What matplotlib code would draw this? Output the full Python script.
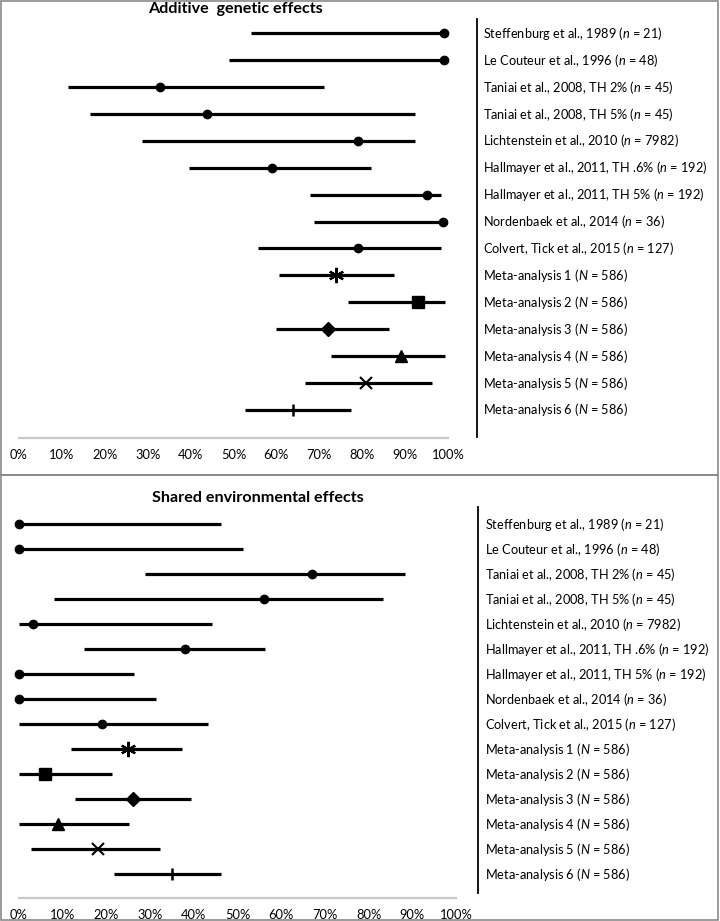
import matplotlib
matplotlib.use("Agg")
import matplotlib.pyplot as plt
from matplotlib.lines import Line2D
from matplotlib.patches import Rectangle
from matplotlib.transforms import blended_transform_factory

plt.rcParams['font.family'] = ['Lato', 'DejaVu Sans']
plt.rcParams['mathtext.fontset'] = 'custom'
plt.rcParams['mathtext.it'] = 'Lato:italic'
plt.rcParams['mathtext.rm'] = 'Lato'

studies = [
    "Steffenburg et al., 1989 ($n$ = 21)",
    "Le Couteur et al., 1996 ($n$ = 48)",
    "Taniai et al., 2008, TH 2% ($n$ = 45)",
    "Taniai et al., 2008, TH 5% ($n$ = 45)",
    "Lichtenstein et al., 2010 ($n$ = 7982)",
    "Hallmayer et al., 2011, TH .6% ($n$ = 192)",
    "Hallmayer et al., 2011, TH 5% ($n$ = 192)",
    "Nordenbaek et al., 2014 ($n$ = 36)",
    "Colvert, Tick et al., 2015 ($n$ = 127)",
    "Meta-analysis 1 ($N$ = 586)",
    "Meta-analysis 2 ($N$ = 586)",
    "Meta-analysis 3 ($N$ = 586)",
    "Meta-analysis 4 ($N$ = 586)",
    "Meta-analysis 5 ($N$ = 586)",
    "Meta-analysis 6 ($N$ = 586)",
]

# Additive genetic effects
a_lower = [0.54, 0.49, 0.115, 0.165, 0.287, 0.396, 0.678, 0.688, 0.558, 0.607, 0.768, 0.598, 0.728, 0.667, 0.527]
a_est   = [0.99, 0.99, 0.329, 0.439, 0.79, 0.589, 0.95, 0.988, 0.79, 0.739, 0.929, 0.72, 0.89, 0.81, 0.638]
a_upper = [0.99, 0.99, 0.712, 0.923, 0.923, 0.82, 0.983, 0.988, 0.983, 0.873, 0.993, 0.862, 0.993, 0.963, 0.773]

# Shared environmental effects
c_lower = [0.0, 0.0, 0.288, 0.079, 0.0, 0.149, 0.0, 0.0, 0.0, 0.119, 0.0, 0.128, 0.0, 0.027, 0.218]
c_est   = [0.0, 0.0, 0.671, 0.561, 0.031, 0.381, 0.0, 0.0, 0.191, 0.249, 0.06, 0.26, 0.09, 0.18, 0.349]
c_upper = [0.462, 0.513, 0.884, 0.834, 0.442, 0.563, 0.263, 0.313, 0.433, 0.372, 0.212, 0.394, 0.252, 0.323, 0.462]

tick_values = [0, 0.1, 0.2, 0.3, 0.4, 0.5, 0.6, 0.7, 0.8, 0.9, 1.0]
tick_labels = ["0%", "10%", "20%", "30%", "40%", "50%", "60%", "70%", "80%", "90%", "100%"]

markers = ['o'] * 9 + [(6, 2, 0), 's', 'D', '^', 'x', '+']
msizes = [6] * 9 + [11, 8.5, 7, 8.5, 8.5, 9]
mews = [1] * 9 + [1.6, 1, 1, 1, 1.5, 1.8]

W, H = 720, 921
fig = plt.figure(figsize=(W / 100, H / 100), dpi=100)

def fx(px):
    return px / W

def fy(py):
    return 1 - py / H

# panel frames
frame_col = '#8a8a8a'
fig.add_artist(Rectangle((fx(1), fy(475)), fx(717), 475 / H - 1 / H, transform=fig.transFigure,
                         fill=False, edgecolor=frame_col, lw=1.2))
fig.add_artist(Rectangle((fx(1), fy(920)), fx(717), 445 / H, transform=fig.transFigure,
                         fill=False, edgecolor=frame_col, lw=1.2))

LABEL_FS = 9.2
TICK_FS = 9.3
TITLE_FS = 11.6


def panel(x0, x1, ytop, ybottom, row0, rowstep, lower, est, upper, title, title_x, title_y,
          label_x, sep_x, sep_y0, sep_y1):
    ax = fig.add_axes([fx(x0), fy(ybottom), fx(x1) - fx(x0), (ybottom - ytop) / H])
    n = len(lower)
    top_idx = (ytop - row0) / rowstep
    bot_idx = (ybottom - row0) / rowstep
    ax.set_xlim(0, 1)
    ax.set_ylim(bot_idx, top_idx)
    ys = list(range(n))
    ax.hlines(ys, lower, upper, color='black', lw=2.3, zorder=2)
    for i in range(n):
        ax.plot([est[i]], [ys[i]], marker=markers[i], ms=msizes[i], mew=mews[i],
                color='black', mec='black', ls='none', zorder=3, clip_on=False)
    for s in ['top', 'right', 'left']:
        ax.spines[s].set_visible(False)
    ax.spines['bottom'].set_color('#c8c8c8')
    ax.spines['bottom'].set_linewidth(1.6)
    ax.set_yticks([])
    ax.set_xticks(tick_values)
    ax.set_xticklabels(tick_labels, fontsize=TICK_FS)
    ax.tick_params(axis='x', length=0, pad=8, colors='black')
    ax.patch.set_alpha(0)
    tr = blended_transform_factory(fig.transFigure, ax.transData)
    for i, lab in enumerate(studies):
        ax.text(fx(label_x), ys[i], lab, transform=tr, ha='left', va='center',
                fontsize=LABEL_FS, clip_on=False)
    fig.add_artist(Line2D([fx(sep_x), fx(sep_x)], [fy(sep_y0), fy(sep_y1)],
                          transform=fig.transFigure, color='black', lw=1.3))
    fig.text(fx(title_x), fy(title_y), title, ha='center', va='center',
             fontsize=TITLE_FS, fontweight='bold')
    return ax

panel(19, 448, 20, 437.7, 33.3, 26.9, a_lower, a_est, a_upper,
      "Additive  genetic effects", 235, 9.5, 483, 476.7, 19, 436.7)
panel(19, 456, 505, 898.3, 524.3, 25.0, c_lower, c_est, c_upper,
      "Shared environmental effects", 258, 498, 485, 478.3, 506.7, 893)

fig.savefig("out.png", dpi=100)
